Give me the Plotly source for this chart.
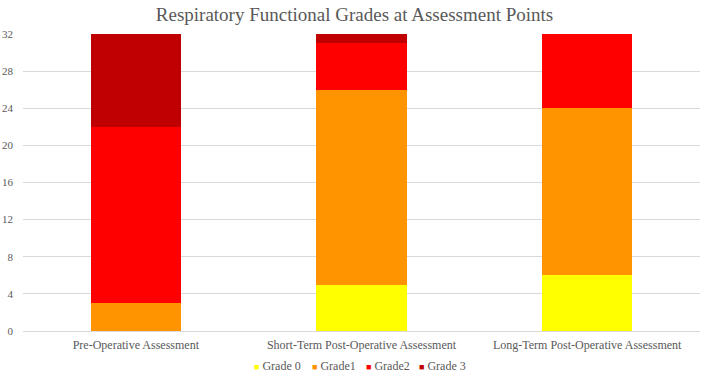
import plotly.graph_objects as go

categories = ["Pre-Operative Assessment", "Short-Term Post-Operative Assessment", "Long-Term Post-Operative Assessment"]
grade0 = [0, 5, 6]
grade1 = [3, 21, 18]
grade2 = [19, 5, 8]
grade3 = [10, 1, 0]
series_names = ["Grade 0", "Grade1", "Grade2", "Grade 3"]
colors = ["#FFFF00", "#FF9300", "#FF0000", "#C00000"]
y_ticks = [0, 4, 8, 12, 16, 20, 24, 28, 32]

font_family = "Liberation Serif, Times New Roman, serif"
W, H = 709, 375
ML, MR, MT, MB = 23, 9, 34, 44
plot_w = W - ML - MR
plot_h = H - MT - MB

fig = go.Figure()
for name, vals, col in zip(series_names, [grade0, grade1, grade2, grade3], colors):
    fig.add_trace(go.Bar(x=categories, y=vals, name=name, showlegend=False,
                         marker=dict(color=col, line=dict(width=0))))

# custom compact legend (layout positions in pixels)
legend_px = [252, 310, 364, 417]
legend_y_px = 366
annotations = []
for name, col, px in zip(series_names, colors, legend_px):
    annotations.append(dict(
        text=f'<span style="color:{col};font-size:9px">■</span> {name}',
        xref="paper", yref="paper", x=(px - ML) / plot_w, y=(H - MB - legend_y_px) / plot_h,
        xanchor="left", yanchor="middle", showarrow=False,
        font=dict(family=font_family, size=12, color="#595959")))

fig.update_layout(
    barmode="stack",
    bargap=0.6,
    width=W, height=H,
    margin=dict(l=ML, r=MR, t=MT, b=MB, autoexpand=False),
    paper_bgcolor="white", plot_bgcolor="white",
    title=dict(text="Respiratory Functional Grades at Assessment Points", x=0.5, xanchor="center",
               y=0.963, yanchor="middle", font=dict(family=font_family, size=19, color="#595959")),
    font=dict(family=font_family, size=12, color="#595959"),
    annotations=annotations,
    xaxis=dict(showgrid=False, showline=True, linecolor="#D9D9D9", ticks="", ticklabelstandoff=3,
               tickfont=dict(family=font_family, size=12, color="#595959")),
    yaxis=dict(range=[0, 32], tickvals=y_ticks, showgrid=True, gridcolor="#D9D9D9",
               zeroline=False, ticks="", ticklabelstandoff=9,
               tickfont=dict(family=font_family, size=11, color="#595959")),
)
fig.write_html("out.html")
